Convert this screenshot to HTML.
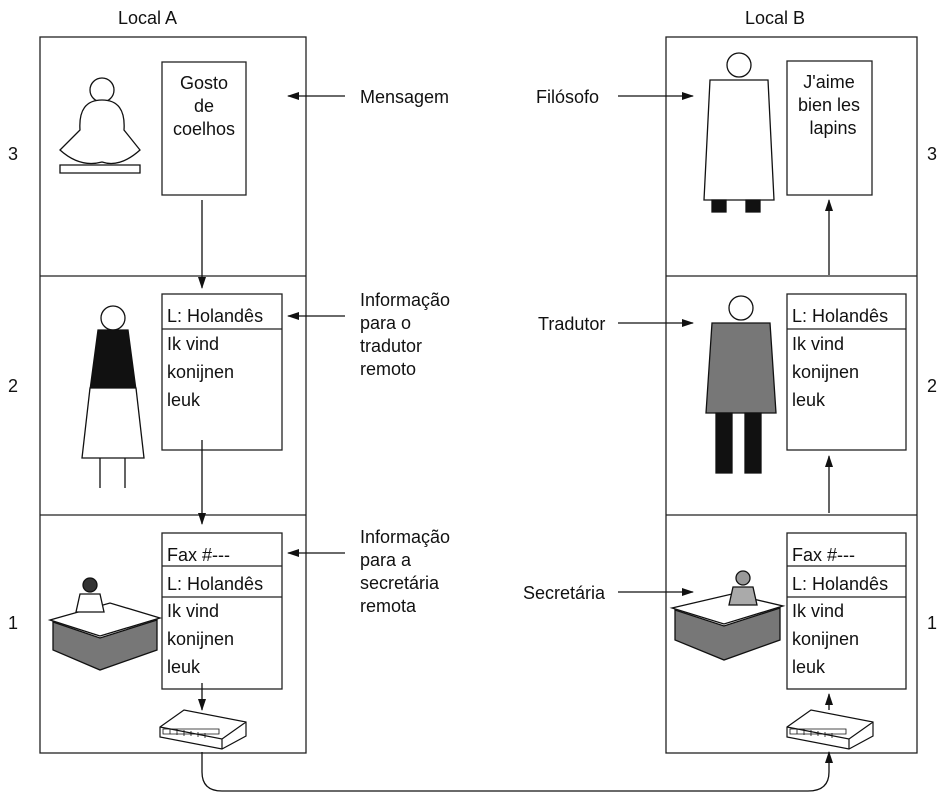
<!DOCTYPE html>
<html><head><meta charset="utf-8"><style>
html,body{margin:0;padding:0;background:#fff}
svg{display:block}
text{font-family:"Liberation Sans",sans-serif;font-size:18px;fill:#111}
</style></head><body>
<svg width="949" height="806" viewBox="0 0 949 806" xmlns="http://www.w3.org/2000/svg">
<defs><marker id="a" markerWidth="12" markerHeight="8" refX="11" refY="4" orient="auto" markerUnits="userSpaceOnUse"><path d="M0,0 L12,4 L0,8 z" fill="#111"/></marker></defs>
<g fill="none" stroke="#222" stroke-width="1.3">
<rect x="40" y="37" width="266" height="716"/>
<line x1="40" y1="276" x2="306" y2="276"/><line x1="40" y1="515" x2="306" y2="515"/>
<rect x="666" y="37" width="251" height="716"/>
<line x1="666" y1="276" x2="917" y2="276"/><line x1="666" y1="515" x2="917" y2="515"/>
<rect x="162" y="62" width="84" height="133"/>
<rect x="162" y="294" width="120" height="156"/><line x1="162" y1="329" x2="282" y2="329"/>
<rect x="162" y="533" width="120" height="156"/><line x1="162" y1="566" x2="282" y2="566"/><line x1="162" y1="597" x2="282" y2="597"/>
<rect x="787" y="61" width="85" height="134"/>
<rect x="787" y="294" width="119" height="156"/><line x1="787" y1="329" x2="906" y2="329"/>
<rect x="787" y="533" width="119" height="156"/><line x1="787" y1="566" x2="906" y2="566"/><line x1="787" y1="597" x2="906" y2="597"/>
</g>
<g stroke="#111" stroke-width="1.3" fill="none" marker-end="url(#a)">
<line x1="202" y1="200" x2="202" y2="288"/>
<line x1="202" y1="440" x2="202" y2="524"/>
<line x1="202" y1="683" x2="202" y2="710"/>
<line x1="829" y1="275" x2="829" y2="200"/>
<line x1="829" y1="513" x2="829" y2="456"/>
<line x1="829" y1="710" x2="829" y2="694"/>
<line x1="345" y1="96" x2="288" y2="96"/>
<line x1="345" y1="316" x2="288" y2="316"/>
<line x1="345" y1="553" x2="288" y2="553"/>
<line x1="618" y1="96" x2="693" y2="96"/>
<line x1="618" y1="323" x2="693" y2="323"/>
<line x1="618" y1="592" x2="693" y2="592"/>
<path d="M202,752 L202,772 Q202,791 222,791 L808,791 Q829,791 829,772 L829,752"/>
</g>
<!-- fax machines -->
<g stroke="#111" stroke-width="1.2" fill="#fff">
<path d="M160,727 L184,710 L246,722 L246,736 L222,749 L160,737 z"/><path d="M160,727 L222,739 L246,722 M222,739 L222,749"/>
<path d="M787,727 L811,710 L873,722 L873,736 L849,749 L787,737 z"/><path d="M787,727 L849,739 L873,722 M849,739 L849,749"/>
</g>
<g fill="none" stroke="#111" stroke-width="0.8">
<path d="M163,729 h56 v5 h-56 z M170,729 v5 M177,729 v6 M184,730 v6 M191,731 v5 M198,732 v5 M205,733 v5"/>
<path d="M790,729 h56 v5 h-56 z M797,729 v5 M804,729 v6 M811,730 v6 M818,731 v5 M825,732 v5 M832,733 v5"/>
</g>
<!-- figures -->
<g stroke="#111" stroke-width="1.3" fill="#fff">
<circle cx="102" cy="90" r="12"/><path d="M80,130 Q78,100 102,100 Q126,100 124,130 L140,150 Q120,168 102,162 Q80,168 60,150 z"/><path d="M60,165 L140,165 L140,173 L60,173 z"/>
<circle cx="113" cy="318" r="12"/><path d="M98,330 h30 l8,60 h-46 z" fill="#111"/><path d="M90,388 h46 l8,70 h-62 z"/><path d="M100,458 v30 M125,458 v30"/>
<circle cx="741" cy="308" r="12"/><path d="M712,323 h58 l6,90 h-70 z" fill="#777"/><path d="M716,413 h16 v60 h-16 z M745,413 h16 v60 h-16 z" fill="#111"/>
<circle cx="739" cy="65" r="12"/><path d="M710,80 h58 l6,120 h-70 z"/><path d="M712,200 h14 v12 h-14 z M746,200 h14 v12 h-14 z" fill="#111"/>
<path d="M50,620 L110,603 L160,618 L100,636 z"/><path d="M53,622 L100,638 L157,620 L157,650 L100,670 L53,650 z" fill="#777"/>
<circle cx="90" cy="585" r="7" fill="#333"/><path d="M80,594 h20 l4,18 h-28 z"/>
<path d="M672,608 L732,594 L783,606 L724,624 z"/><path d="M675,610 L724,626 L780,608 L780,640 L724,660 L675,640 z" fill="#777"/>
<circle cx="743" cy="578" r="7" fill="#999"/><path d="M733,587 h20 l4,18 h-28 z" fill="#aaa"/>
</g>
<!-- text -->
<text x="118" y="24">Local A</text><text x="745" y="24">Local B</text>
<text x="8" y="160">3</text><text x="8" y="392">2</text><text x="8" y="629">1</text>
<text x="927" y="160">3</text><text x="927" y="392">2</text><text x="927" y="629">1</text>
<g text-anchor="middle"><text x="204" y="89">Gosto</text><text x="204" y="112">de</text><text x="204" y="135">coelhos</text>
<text x="829" y="88">J'aime</text><text x="829" y="111">bien les</text><text x="833" y="134">lapins</text></g>
<text x="167" y="322">L: Holandês</text><text x="167" y="350">Ik vind</text><text x="167" y="378">konijnen</text><text x="167" y="406">leuk</text>
<text x="167" y="561">Fax #---</text><text x="167" y="590">L: Holandês</text><text x="167" y="617">Ik vind</text><text x="167" y="645">konijnen</text><text x="167" y="673">leuk</text>
<text x="792" y="322">L: Holandês</text><text x="792" y="350">Ik vind</text><text x="792" y="378">konijnen</text><text x="792" y="406">leuk</text>
<text x="792" y="561">Fax #---</text><text x="792" y="590">L: Holandês</text><text x="792" y="617">Ik vind</text><text x="792" y="645">konijnen</text><text x="792" y="673">leuk</text>
<text x="360" y="103">Mensagem</text>
<text x="360" y="306">Informação</text><text x="360" y="329">para o</text><text x="360" y="352">tradutor</text><text x="360" y="375">remoto</text>
<text x="360" y="543">Informação</text><text x="360" y="566">para a</text><text x="360" y="589">secretária</text><text x="360" y="612">remota</text>
<text x="536" y="103">Filósofo</text><text x="538" y="330">Tradutor</text><text x="523" y="599">Secretária</text>
</svg>
</body></html>
